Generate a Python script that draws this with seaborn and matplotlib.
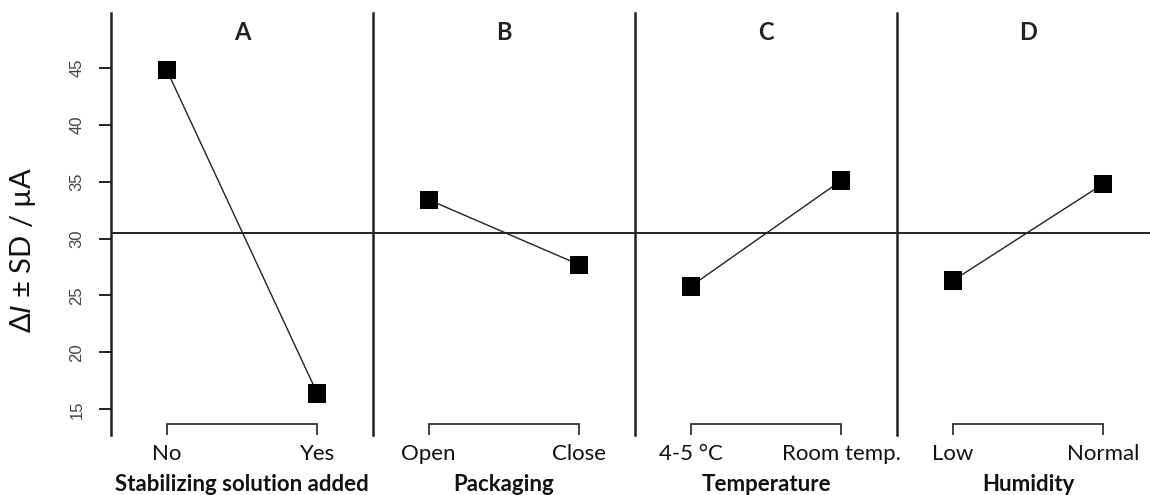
import numpy as np
import pandas as pd
import matplotlib
matplotlib.use("Agg")
import matplotlib.pyplot as plt
import seaborn as sns

# ---- data ----
panel_titles = ["A", "B", "C", "D"]
factor_names = ["Stabilizing solution added", "Packaging", "Temperature", "Humidity"]
level_labels = [["No", "Yes"], ["Open", "Close"], ["4-5 °C", "Room temp."], ["Low", "Normal"]]
mean_response = [[44.8, 16.4], [33.4, 27.7], [25.8, 35.1], [26.3, 34.8]]
grand_mean = 30.5
y_ticks = [15, 20, 25, 30, 35, 40, 45]

sns.set_theme(style="ticks")
plt.rcParams['font.family'] = ['Lato', 'DejaVu Sans']
plt.rcParams['mathtext.fontset'] = 'custom'
plt.rcParams['mathtext.rm'] = 'Lato'
plt.rcParams['mathtext.it'] = 'Liberation Sans:italic'

W, H = 1150, 495
fig = plt.figure(figsize=(W / 100, H / 100), dpi=100)
fig.patch.set_facecolor("white")

left0, pw, top, bottom = 111, 262, 13, 435
for i in range(4):
    ax = fig.add_axes([(left0 + i * pw) / W, 1 - bottom / H, pw / W, (bottom - top) / H])
    ax.set_facecolor("white")
    df = pd.DataFrame({"level": level_labels[i], "value": mean_response[i]})
    ax.axhline(grand_mean, color="#111111", lw=1.3, zorder=1)
    sns.lineplot(data=df, x="level", y="value", ax=ax, color="#222222", lw=1.0, sort=False, zorder=2)
    sns.scatterplot(data=df, x="level", y="value", ax=ax, marker="s", s=175,
                    color="black", edgecolor="none", zorder=3)
    ax.set_xlim(-0.37, 1.37)
    ax.set_ylim(12.75, 49.8)
    for s in ["top", "right"]:
        ax.spines[s].set_visible(False)
    ax.spines["left"].set_color("#222222")
    ax.spines["left"].set_linewidth(1.8)
    ax.spines["bottom"].set_bounds(0, 1)
    ax.spines["bottom"].set_position(("outward", -8.0))
    ax.spines["bottom"].set_color("#333333")
    ax.spines["bottom"].set_linewidth(1.3)
    ax.tick_params(axis="x", direction="out", length=8, width=1.3, color="#333333",
                   pad=6.5, labelsize=16, labelcolor="#111111", bottom=True)
    ax.set_xlabel(factor_names[i], fontweight="bold", fontsize=16, labelpad=7, color="#111111")
    ax.set_ylabel("")
    ax.text(0.5, (bottom - 33) / (bottom - top), panel_titles[i], transform=ax.transAxes,
            ha="center", va="center", fontsize=17, fontweight="bold", color="#222222")
    ax.set_yticks(y_ticks)
    if i == 0:
        ax.tick_params(axis="y", which="major", direction="out", length=8.6, width=1.4,
                       color="#222222", labelsize=12, labelcolor="#444444",
                       left=True, labelleft=True, pad=10.5)
        for lbl in ax.get_yticklabels():
            lbl.set_rotation(90)
            lbl.set_va("center")
            lbl.set_family(["Liberation Sans", "DejaVu Sans"])
    else:
        ax.tick_params(axis="y", left=False, labelleft=False)

fig.text(23 / W, 1 - 250 / H, "Δ$\\it{I}$ ± SD / µA", rotation=90, ha="center", va="center",
         fontsize=21, color="#111111")

fig.savefig("out.png", dpi=100, facecolor="white")
